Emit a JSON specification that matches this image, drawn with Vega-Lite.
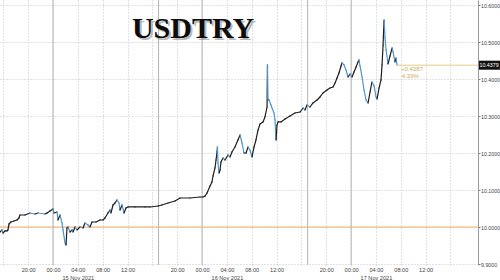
{
  "$schema": "https://vega.github.io/schema/vega-lite/v6.json",
  "width": 478,
  "height": 265,
  "autosize": {"type": "none"},
  "padding": {"left": 0, "top": 0, "right": 22, "bottom": 15},
  "background": "white",
  "data": {"values": [{}]},
  "config": {
    "view": {"stroke": null},
    "axis": {"labelFont": "Liberation Sans", "labelOverlap": false, "labelFontSize": 5.3, "title": null, "labelColor": "#444", "labelFlush": false}
  },
  "resolve": {"axis": {"x": "independent", "y": "independent"}},
  "datasets": {
    "px": [
      {"t":"2021-11-14T15:28","p":9.9866},{"t":"2021-11-14T15:47","p":9.9921},{"t":"2021-11-14T15:57","p":9.9839},
      {"t":"2021-11-14T16:16","p":9.9894},{"t":"2021-11-14T16:36","p":9.9894},{"t":"2021-11-14T16:45","p":9.9921},
      {"t":"2021-11-14T16:55","p":10.0083},{"t":"2021-11-14T17:14","p":10.0137},{"t":"2021-11-14T17:43","p":10.0164},
      {"t":"2021-11-14T18:12","p":10.0191},{"t":"2021-11-14T18:31","p":10.0245},{"t":"2021-11-14T18:41","p":10.0326},
      {"t":"2021-11-14T19:29","p":10.0326},{"t":"2021-11-14T20:18","p":10.0380},{"t":"2021-11-14T21:06","p":10.0353},
      {"t":"2021-11-14T21:35","p":10.0380},{"t":"2021-11-14T22:43","p":10.0353},{"t":"2021-11-14T23:02","p":10.0380},
      {"t":"2021-11-14T23:31","p":10.0434},{"t":"2021-11-15T00:00","p":10.0489},{"t":"2021-11-15T00:10","p":10.0380},
      {"t":"2021-11-15T00:39","p":10.0407},{"t":"2021-11-15T00:48","p":10.0191},{"t":"2021-11-15T01:08","p":10.0326},
      {"t":"2021-11-15T01:27","p":10.0110},{"t":"2021-11-15T01:37","p":9.9921},{"t":"2021-11-15T01:56","p":9.9569},
      {"t":"2021-11-15T02:06","p":9.9515},{"t":"2021-11-15T02:15","p":9.9975},{"t":"2021-11-15T02:25","p":10.0002},
      {"t":"2021-11-15T02:44","p":9.9866},{"t":"2021-11-15T03:04","p":9.9921},{"t":"2021-11-15T03:13","p":9.9866},
      {"t":"2021-11-15T03:33","p":10.0002},{"t":"2021-11-15T03:52","p":9.9921},{"t":"2021-11-15T04:21","p":10.0002},
      {"t":"2021-11-15T04:50","p":9.9975},{"t":"2021-11-15T05:09","p":10.0110},{"t":"2021-11-15T05:38","p":10.0056},
      {"t":"2021-11-15T05:57","p":10.0002},{"t":"2021-11-15T06:17","p":10.0137},{"t":"2021-11-15T06:55","p":10.0137},
      {"t":"2021-11-15T07:34","p":10.0191},{"t":"2021-11-15T08:03","p":10.0191},{"t":"2021-11-15T08:22","p":10.0245},
      {"t":"2021-11-15T08:51","p":10.0380},{"t":"2021-11-15T09:11","p":10.0462},{"t":"2021-11-15T09:20","p":10.0380},
      {"t":"2021-11-15T09:40","p":10.0597},{"t":"2021-11-15T09:59","p":10.0651},{"t":"2021-11-15T10:18","p":10.0732},
      {"t":"2021-11-15T10:38","p":10.0651},{"t":"2021-11-15T10:47","p":10.0462},{"t":"2021-11-15T11:07","p":10.0597},
      {"t":"2021-11-15T11:26","p":10.0380},{"t":"2021-11-15T11:45","p":10.0516},{"t":"2021-11-15T12:05","p":10.0543},
      {"t":"2021-11-15T13:12","p":10.0543},{"t":"2021-11-15T14:49","p":10.0543},{"t":"2021-11-15T15:37","p":10.0543},
      {"t":"2021-11-15T16:55","p":10.0570},{"t":"2021-11-15T17:33","p":10.0597},{"t":"2021-11-15T18:31","p":10.0651},
      {"t":"2021-11-15T19:39","p":10.0705},{"t":"2021-11-15T20:27","p":10.0786},{"t":"2021-11-15T22:04","p":10.0786},
      {"t":"2021-11-15T23:40","p":10.0813},{"t":"2021-11-16T00:09","p":10.0813},{"t":"2021-11-16T00:29","p":10.0840},
      {"t":"2021-11-16T00:48","p":10.0921},{"t":"2021-11-16T01:17","p":10.1111},{"t":"2021-11-16T01:36","p":10.1219},
      {"t":"2021-11-16T01:46","p":10.1381},{"t":"2021-11-16T02:05","p":10.1598},{"t":"2021-11-16T02:15","p":10.1814},
      {"t":"2021-11-16T02:25","p":10.2031},{"t":"2021-11-16T02:29","p":10.2166},{"t":"2021-11-16T02:34","p":10.1733},
      {"t":"2021-11-16T02:44","p":10.1463},{"t":"2021-11-16T02:54","p":10.1544},{"t":"2021-11-16T03:03","p":10.1760},
      {"t":"2021-11-16T03:23","p":10.1869},{"t":"2021-11-16T03:42","p":10.1814},{"t":"2021-11-16T04:11","p":10.1950},
      {"t":"2021-11-16T04:30","p":10.1896},{"t":"2021-11-16T04:49","p":10.2031},{"t":"2021-11-16T05:18","p":10.2166},
      {"t":"2021-11-16T05:47","p":10.2356},{"t":"2021-11-16T06:07","p":10.2491},{"t":"2021-11-16T06:26","p":10.2274},
      {"t":"2021-11-16T06:45","p":10.2004},{"t":"2021-11-16T07:05","p":10.2004},{"t":"2021-11-16T07:24","p":10.2166},
      {"t":"2021-11-16T07:43","p":10.2085},{"t":"2021-11-16T08:03","p":10.1896},{"t":"2021-11-16T08:22","p":10.2166},
      {"t":"2021-11-16T08:41","p":10.2356},{"t":"2021-11-16T09:01","p":10.2626},{"t":"2021-11-16T09:20","p":10.2789},
      {"t":"2021-11-16T09:49","p":10.2843},{"t":"2021-11-16T10:08","p":10.2978},{"t":"2021-11-16T10:28","p":10.3248},
      {"t":"2021-11-16T10:32","p":10.4385},{"t":"2021-11-16T10:37","p":10.3438},{"t":"2021-11-16T10:47","p":10.3438},
      {"t":"2021-11-16T11:06","p":10.3303},{"t":"2021-11-16T11:16","p":10.3221},{"t":"2021-11-16T11:35","p":10.3086},
      {"t":"2021-11-16T11:45","p":10.2897},{"t":"2021-11-16T11:55","p":10.2356},{"t":"2021-11-16T12:04","p":10.2761},
      {"t":"2021-11-16T12:14","p":10.2843},{"t":"2021-11-16T12:43","p":10.2843},{"t":"2021-11-16T13:22","p":10.2924},
      {"t":"2021-11-16T14:10","p":10.3005},{"t":"2021-11-16T14:58","p":10.3086},{"t":"2021-11-16T15:47","p":10.3113},
      {"t":"2021-11-16T16:16","p":10.3221},{"t":"2021-11-16T16:35","p":10.3167},{"t":"2021-11-16T16:54","p":10.3303},
      {"t":"2021-11-16T17:23","p":10.3248},{"t":"2021-11-16T17:52","p":10.3357},{"t":"2021-11-16T18:31","p":10.3438},
      {"t":"2021-11-16T19:00","p":10.3519},{"t":"2021-11-16T19:29","p":10.3627},{"t":"2021-11-16T20:07","p":10.3708},
      {"t":"2021-11-16T20:36","p":10.3762},{"t":"2021-11-16T21:05","p":10.3790},{"t":"2021-11-16T21:25","p":10.3898},
      {"t":"2021-11-16T21:44","p":10.4033},{"t":"2021-11-16T22:03","p":10.4168},{"t":"2021-11-16T22:23","p":10.4358},
      {"t":"2021-11-16T22:32","p":10.4440},{"t":"2021-11-16T22:52","p":10.4385},{"t":"2021-11-16T23:11","p":10.4249},
      {"t":"2021-11-16T23:30","p":10.4060},{"t":"2021-11-16T23:50","p":10.4141},{"t":"2021-11-17T00:09","p":10.4060},
      {"t":"2021-11-17T00:28","p":10.4195},{"t":"2021-11-17T00:48","p":10.4331},{"t":"2021-11-17T01:07","p":10.4467},
      {"t":"2021-11-17T01:17","p":10.4520},{"t":"2021-11-17T01:26","p":10.4358},{"t":"2021-11-17T01:46","p":10.4060},
      {"t":"2021-11-17T02:05","p":10.3708},{"t":"2021-11-17T02:24","p":10.3438},{"t":"2021-11-17T02:44","p":10.3357},
      {"t":"2021-11-17T03:03","p":10.3654},{"t":"2021-11-17T03:22","p":10.3925},{"t":"2021-11-17T03:42","p":10.3817},
      {"t":"2021-11-17T04:01","p":10.3519},{"t":"2021-11-17T04:11","p":10.3465},{"t":"2021-11-17T04:30","p":10.3762},
      {"t":"2021-11-17T04:49","p":10.3979},{"t":"2021-11-17T04:59","p":10.4385},{"t":"2021-11-17T05:09","p":10.4926},
      {"t":"2021-11-17T05:18","p":10.5602},{"t":"2021-11-17T05:28","p":10.5115},{"t":"2021-11-17T05:38","p":10.4791},
      {"t":"2021-11-17T05:57","p":10.4412},{"t":"2021-11-17T06:16","p":10.4628},{"t":"2021-11-17T06:36","p":10.4845},
      {"t":"2021-11-17T06:45","p":10.4737},{"t":"2021-11-17T07:04","p":10.4467},{"t":"2021-11-17T07:14","p":10.4574},
      {"t":"2021-11-17T07:24","p":10.4379}
    ],
    "sess": [
      {"t":"2021-11-15T00:00"},{"t":"2021-11-15T17:00"},{"t":"2021-11-16T00:00"},{"t":"2021-11-16T17:00"},{"t":"2021-11-17T00:00"}
    ]
  },
  "layer": [
    {
      "data": {"name": "sess"},
      "mark": {"type": "rule", "color": "#b4b4b4", "strokeWidth": 1},
      "encoding": {
        "x": {
          "field": "t", "type": "temporal", "title": null,
          "scale": {"domain": [{"year":2021,"month":"Nov","date":14,"hours":15,"minutes":28},{"year":2021,"month":"Nov","date":17,"hours":20,"minutes":26}], "nice": false},
          "axis": {
            "values": [
              {"year":2021,"month":"Nov","date":14,"hours":16},{"year":2021,"month":"Nov","date":14,"hours":20},
              {"year":2021,"month":"Nov","date":15,"hours":0},{"year":2021,"month":"Nov","date":15,"hours":4},
              {"year":2021,"month":"Nov","date":15,"hours":8},{"year":2021,"month":"Nov","date":15,"hours":12},
              {"year":2021,"month":"Nov","date":15,"hours":16},{"year":2021,"month":"Nov","date":15,"hours":20},
              {"year":2021,"month":"Nov","date":16,"hours":0},{"year":2021,"month":"Nov","date":16,"hours":4},
              {"year":2021,"month":"Nov","date":16,"hours":8},{"year":2021,"month":"Nov","date":16,"hours":12},
              {"year":2021,"month":"Nov","date":16,"hours":16},{"year":2021,"month":"Nov","date":16,"hours":20},
              {"year":2021,"month":"Nov","date":17,"hours":0},{"year":2021,"month":"Nov","date":17,"hours":4},
              {"year":2021,"month":"Nov","date":17,"hours":8},{"year":2021,"month":"Nov","date":17,"hours":12},
              {"year":2021,"month":"Nov","date":17,"hours":16}
            ],
            "labelExpr": "hours(datum.value) == 16 ? '' : (hours(datum.value) == 4 ? [timeFormat(datum.value, '%H:%M'), timeFormat(datum.value, '%d %b %Y')] : timeFormat(datum.value, '%H:%M'))",
            "labelOverlap": false,
            "labelFontSize": 5.6,
            "labelPadding": 2,
            "labelLineHeight": 8,
            "domain": false,
            "ticks": false,
            "grid": true,
            "gridDash": [1, 2],
            "gridColor": "#c4c4c4",
            "gridWidth": 1
          }
        }
      }
    },
    {
      "mark": {"type": "rule", "color": "#f2ad6a", "strokeWidth": 1},
      "encoding": {
        "y": {
          "datum": 10.0, "type": "quantitative",
          "scale": {"domain": [9.8973, 10.6143], "nice": false, "zero": false},
          "axis": {
            "orient": "right",
            "values": [9.9, 10.0, 10.1, 10.2, 10.3, 10.4, 10.5, 10.6],
            "format": ".4f",
            "labelOverlap": false,
            "labelPadding": 0.5,
            "domain": true,
            "domainColor": "#9a9a9a",
            "ticks": true,
            "tickSize": 2,
            "tickColor": "#777",
            "grid": true,
            "gridDash": [1, 2],
            "gridColor": "#c4c4c4",
            "gridWidth": 1
          }
        }
      }
    },
    {
      "data": {"name": "px"},
      "transform": [
        {"window": [{"op": "lead", "field": "t", "as": "t2"}, {"op": "lead", "field": "p", "as": "p2"}], "sort": [{"field": "t"}]},
        {"filter": "datum.p2 != null"}
      ],
      "mark": {"type": "rule", "strokeWidth": 1.2, "strokeCap": "round"},
      "encoding": {
        "x": {"field": "t", "type": "temporal", "title": null, "axis": null},
        "x2": {"field": "t2"},
        "y": {"field": "p", "type": "quantitative", "title": null, "axis": null},
        "y2": {"field": "p2"},
        "color": {"condition": {"test": "datum.p2 < datum.p", "value": "#4f93cf"}, "value": "#1e1e1e"}
      }
    },
    {
      "mark": {"type": "rule", "color": "#e3cc88", "strokeWidth": 1},
      "encoding": {
        "x": {"datum": {"year":2021,"month":"Nov","date":17,"hours":7,"minutes":24}, "type": "temporal", "axis": null},
        "x2": {"datum": {"year":2021,"month":"Nov","date":17,"hours":20,"minutes":26}},
        "y": {"datum": 10.4379, "type": "quantitative", "axis": null}
      }
    },
    {
      "mark": {"type": "text", "align": "left", "baseline": "middle", "fontSize": 6, "font": "Liberation Sans", "color": "#d2aa55"},
      "encoding": {
        "x": {"datum": {"year":2021,"month":"Nov","date":17,"hours":8,"minutes":2}, "type": "temporal", "axis": null},
        "y": {"datum": 10.4277, "type": "quantitative", "axis": null},
        "text": {"value": "+0.4387"}
      }
    },
    {
      "mark": {"type": "text", "align": "left", "baseline": "middle", "fontSize": 6, "font": "Liberation Sans", "color": "#d2aa55"},
      "encoding": {
        "x": {"datum": {"year":2021,"month":"Nov","date":17,"hours":8,"minutes":10}, "type": "temporal", "axis": null},
        "y": {"datum": 10.4087, "type": "quantitative", "axis": null},
        "text": {"value": "4.39%"}
      }
    },
    {
      "mark": {"type": "rect", "color": "#111", "clip": false},
      "encoding": {
        "x": {"datum": {"year":2021,"month":"Nov","date":17,"hours":20,"minutes":35}, "type": "temporal", "axis": null},
        "x2": {"datum": {"year":2021,"month":"Nov","date":18,"hours":0,"minutes":0}},
        "y": {"datum": 10.4257, "type": "quantitative", "axis": null},
        "y2": {"datum": 10.4501}
      }
    },
    {
      "mark": {"type": "text", "align": "left", "baseline": "middle", "fontSize": 5.3, "font": "Liberation Sans", "color": "white", "dx": 0.5, "clip": false},
      "encoding": {
        "x": {"datum": {"year":2021,"month":"Nov","date":17,"hours":20,"minutes":35}, "type": "temporal", "axis": null},
        "y": {"datum": 10.4379, "type": "quantitative", "axis": null},
        "text": {"value": "10.4379"}
      }
    },
    {
      "mark": {"type": "text", "align": "center", "baseline": "alphabetic", "fontSize": 30, "font": "Liberation Serif", "fontWeight": "bold", "color": "#777", "opacity": 0.5, "dx": 2, "dy": 2},
      "encoding": {
        "x": {"datum": {"year":2021,"month":"Nov","date":15,"hours":22,"minutes":33}, "type": "temporal", "axis": null},
        "y": {"datum": 10.5115, "type": "quantitative", "axis": null},
        "text": {"value": "USDTRY"}
      }
    },
    {
      "mark": {"type": "text", "align": "center", "baseline": "alphabetic", "fontSize": 30, "font": "Liberation Serif", "fontWeight": "bold", "color": "#0d0d0d"},
      "encoding": {
        "x": {"datum": {"year":2021,"month":"Nov","date":15,"hours":22,"minutes":33}, "type": "temporal", "axis": null},
        "y": {"datum": 10.5115, "type": "quantitative", "axis": null},
        "text": {"value": "USDTRY"}
      }
    }
  ]
}
